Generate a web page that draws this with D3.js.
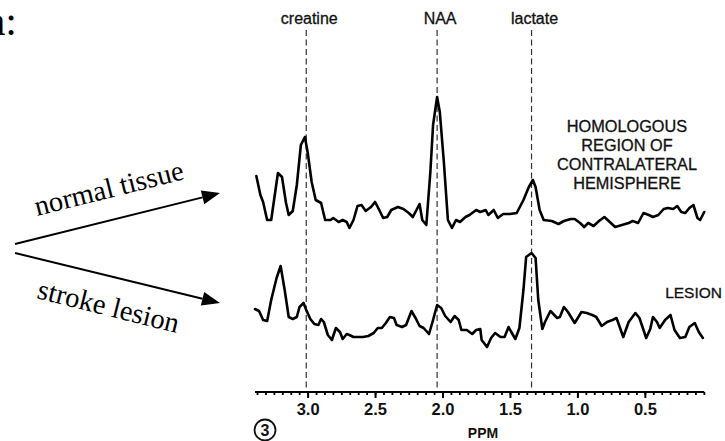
<!DOCTYPE html>
<html>
<head>
<meta charset="utf-8">
<script src="https://cdn.jsdelivr.net/npm/d3@7"></script>
<style>
  body { margin: 0; background: #fff; }
  svg { display: block; }
  .sans { font-family: Helvetica, Arial, "Liberation Sans", sans-serif; fill: #111; }
  .serif { font-family: "Times New Roman", "Liberation Serif", serif; fill: #000; }
</style>
</head>
<body>
<svg id="chart" width="725" height="441"></svg>
<script>
// spectrum: chemical shift (ppm) and relative signal
const normalPpm = [3.38, 3.35, 3.33, 3.30, 3.27, 3.22, 3.19, 3.16, 3.14, 3.11, 3.08, 3.05, 3.02, 3.00,
  2.97, 2.94, 2.90, 2.87, 2.83, 2.81, 2.77, 2.74, 2.71, 2.69, 2.66, 2.63, 2.60, 2.57, 2.53, 2.50,
  2.48, 2.44, 2.41, 2.38, 2.33, 2.29, 2.25, 2.22, 2.17, 2.15, 2.12, 2.09, 2.07, 2.04, 2.02, 1.99,
  1.96, 1.93, 1.90, 1.87, 1.83, 1.80, 1.75, 1.72, 1.68, 1.66, 1.62, 1.59, 1.55, 1.50, 1.45, 1.40,
  1.36, 1.33, 1.31, 1.28, 1.25, 1.19, 1.14, 1.10, 1.05, 1.02, 0.98, 0.95, 0.92, 0.88, 0.84, 0.80,
  0.76, 0.72, 0.67, 0.62, 0.59, 0.55, 0.51, 0.47, 0.44, 0.40, 0.36, 0.33, 0.29, 0.26, 0.23, 0.20,
  0.17, 0.14, 0.11, 0.09, 0.06];
const normalSignal = [44, 25, 18, 0, 0, 47, 43, 17, 5, 9, 35, 75, 83, 68,
  38, 20, 17, 0, 0, 2, -2, 0, -2, -8, 0, 14, 15, 9, 13, 18,
  13, 2, 3, 10, 13, 11, 7, 3, 16, 0, -5, 48, 95, 123, 108, 58,
  0, -8, 0, -2, 3, 5, 10, 8, 10, 5, 10, 2, 6, 6, 7, 20,
  33, 40, 33, 10, 0, -1, -4, -1, 1, 1, -3, -7, -3, -6, -1, 3,
  -2, -7, -5, -3, -1, -3, 7, 5, 3, 5, 11, 12, 11, 14, 8, 7,
  12, 15, 2, 0, 8];

const lesionPpm = [3.39, 3.36, 3.33, 3.30, 3.27, 3.23, 3.20, 3.17, 3.14, 3.11, 3.08, 3.06, 3.03, 3.01,
  2.98, 2.95, 2.92, 2.90, 2.88, 2.85, 2.82, 2.79, 2.76, 2.74, 2.71, 2.69, 2.66, 2.62, 2.59, 2.55,
  2.51, 2.48, 2.45, 2.42, 2.39, 2.36, 2.34, 2.30, 2.27, 2.23, 2.20, 2.17, 2.14, 2.10, 2.07, 2.04,
  2.01, 1.98, 1.94, 1.91, 1.88, 1.86, 1.82, 1.78, 1.75, 1.72, 1.71, 1.67, 1.64, 1.61, 1.57, 1.54,
  1.51, 1.49, 1.46, 1.43, 1.40, 1.38, 1.34, 1.31, 1.29, 1.26, 1.24, 1.20, 1.15, 1.13, 1.10, 1.07,
  1.02, 0.97, 0.93, 0.89, 0.86, 0.82, 0.78, 0.74, 0.71, 0.66, 0.62, 0.57, 0.54, 0.49, 0.46, 0.44,
  0.41, 0.39, 0.35, 0.31, 0.28, 0.24, 0.20, 0.17, 0.13, 0.10, 0.07];
const lesionSignal = [21, 19, 10, 9, 30, 52, 64, 40, 13, 11, 13, 23, 27, 20,
  11, 6, 5, 11, 8, -5, -10, 2, -2, -9, -4, -5, -7, -7, -7, -6,
  -3, 2, 2, 7, 13, 12, 5, 3, 5, 19, 12, 4, 2, -4, 10, 25,
  22, 14, 8, 14, 10, 0, 0, -4, 0, 1, -10, -17, -8, -3, -7, -7,
  3, -2, -9, 2, 40, 73, 77, 72, 30, 1, 8, 19, 12, 13, 23, 18,
  7, 18, 17, 15, 13, 4, 8, 10, 12, -7, 8, 17, 12, -8, 1, 13,
  8, 2, 10, 15, 0, -8, -7, 3, 7, -2, -8];

const peakNames = ["creatine", "NAA", "lactate"];
const peakPpm = [3.01, 2.04, 1.34];

const majorTicks = [3.0, 2.5, 2.0, 1.5, 1.0, 0.5];
const spectrumLabels = [["HOMOLOGOUS", "REGION OF", "CONTRALATERAL", "HEMISPHERE"], ["LESION"]];
const arrowLabels = ["normal tissue", "stroke lesion"];

const svg = d3.select("#chart");

const x = d3.scaleLinear().domain([3.39, 0.06]).range([255, 704.2]);
const yNormal = d3.scaleLinear().domain([0, 100]).range([220, 120]);
const yLesion = d3.scaleLinear().domain([0, 100]).range([330, 230]);
const axisY = 392;

// dashed marker lines + names on top
peakNames.forEach(function(name, i) {
  svg.append("line")
    .attr("x1", x(peakPpm[i])).attr("x2", x(peakPpm[i]))
    .attr("y1", 30).attr("y2", axisY)
    .attr("stroke", "#333").attr("stroke-width", 1.2)
    .attr("stroke-dasharray", "6,3.5");
  svg.append("text").attr("class", "sans")
    .attr("x", x(peakPpm[i]) + 3).attr("y", 24)
    .attr("text-anchor", "middle").attr("font-size", 16)
    .attr("stroke", "#111").attr("stroke-width", 0.3)
    .text(name);
});

// the two spectra
function drawSpectrum(ppm, sig, y) {
  const line = d3.line().x(function(d) { return x(d[0]); }).y(function(d) { return y(d[1]); });
  svg.append("path")
    .datum(d3.zip(ppm, sig))
    .attr("d", line)
    .attr("fill", "none").attr("stroke", "#000")
    .attr("stroke-width", 2.6).attr("stroke-linejoin", "round").attr("stroke-linecap", "round");
}
drawSpectrum(normalPpm, normalSignal, yNormal);
drawSpectrum(lesionPpm, lesionSignal, yLesion);

// ppm axis: minor ticks every 1/16 ppm, labels on the half ppm
const minorTicks = d3.range(0, 55).map(function(k) { return 3.375 - k * 0.0625; })
  .filter(function(v) { return v > 0.06; });
const minorAxis = d3.axisBottom(x).tickValues(minorTicks).tickSize(3).tickFormat("");
const majorAxis = d3.axisBottom(x).tickValues(majorTicks).tickSize(6).tickPadding(5)
  .tickFormat(d3.format(".1f"));

const gMinor = svg.append("g").attr("transform", "translate(0," + axisY + ")").call(minorAxis);
gMinor.select(".domain").attr("stroke-width", 2.2).attr("d", "M" + x(3.39) + ",0H" + x(0.06));
gMinor.selectAll(".tick line").attr("stroke-width", 1.8);

const gMajor = svg.append("g").attr("transform", "translate(0," + axisY + ")").call(majorAxis);
gMajor.select(".domain").remove();
gMajor.selectAll(".tick line").attr("stroke-width", 2);
gMajor.selectAll(".tick text").attr("class", "sans")
  .attr("font-size", 16.5).attr("font-weight", "bold").attr("fill", "#111");

svg.append("text").attr("class", "sans")
  .attr("x", 483).attr("y", 438).attr("text-anchor", "middle")
  .attr("font-size", 14).attr("font-weight", "bold").text("PPM");

// figure number (circled 3)
svg.append("circle").attr("cx", 265).attr("cy", 430).attr("r", 10.5)
  .attr("fill", "none").attr("stroke", "#111").attr("stroke-width", 1.8);
svg.append("text").attr("class", "sans")
  .attr("x", 265).attr("y", 436).attr("text-anchor", "middle")
  .attr("font-size", 16).attr("font-weight", "bold").text("3");

// labels at the right of the spectra
spectrumLabels[0].forEach(function(t, i) {
  svg.append("text").attr("class", "sans")
    .attr("x", 627).attr("y", 132 + i * 19).attr("text-anchor", "middle")
    .attr("font-size", 16.3).attr("stroke", "#111").attr("stroke-width", 0.3).text(t);
});
svg.append("text").attr("class", "sans")
  .attr("x", 722).attr("y", 298).attr("text-anchor", "end").attr("font-size", 15.5)
  .attr("stroke", "#111").attr("stroke-width", 0.3).text(spectrumLabels[1][0]);

// left-hand annotation: arrows pointing at the spectra
svg.append("text").attr("class", "serif")
  .attr("x", 17).attr("y", 35).attr("text-anchor", "end")
  .attr("font-size", 42).text("a:");

function arrow(x1, y1, x2, y2) {
  const a = Math.atan2(y2 - y1, x2 - x1);
  const len = 18, hw = 7;
  const bx = x2 - len * Math.cos(a), by = y2 - len * Math.sin(a);
  svg.append("line").attr("x1", x1).attr("y1", y1).attr("x2", bx).attr("y2", by)
    .attr("stroke", "#000").attr("stroke-width", 2);
  svg.append("path")
    .attr("d", "M" + x2 + "," + y2 +
      "L" + (bx + hw * Math.sin(a)) + "," + (by - hw * Math.cos(a)) +
      "L" + (bx - hw * Math.sin(a)) + "," + (by + hw * Math.cos(a)) + "Z")
    .attr("fill", "#000");
}
arrow(15, 244, 220, 193);
arrow(15, 253, 220, 303);

svg.append("text").attr("class", "serif")
  .attr("transform", "translate(37,216) rotate(-14)")
  .attr("font-size", 28.5).text(arrowLabels[0]);
svg.append("text").attr("class", "serif")
  .attr("transform", "translate(36,298) rotate(14)")
  .attr("font-size", 28.5).text(arrowLabels[1]);
</script>
</body>
</html>
